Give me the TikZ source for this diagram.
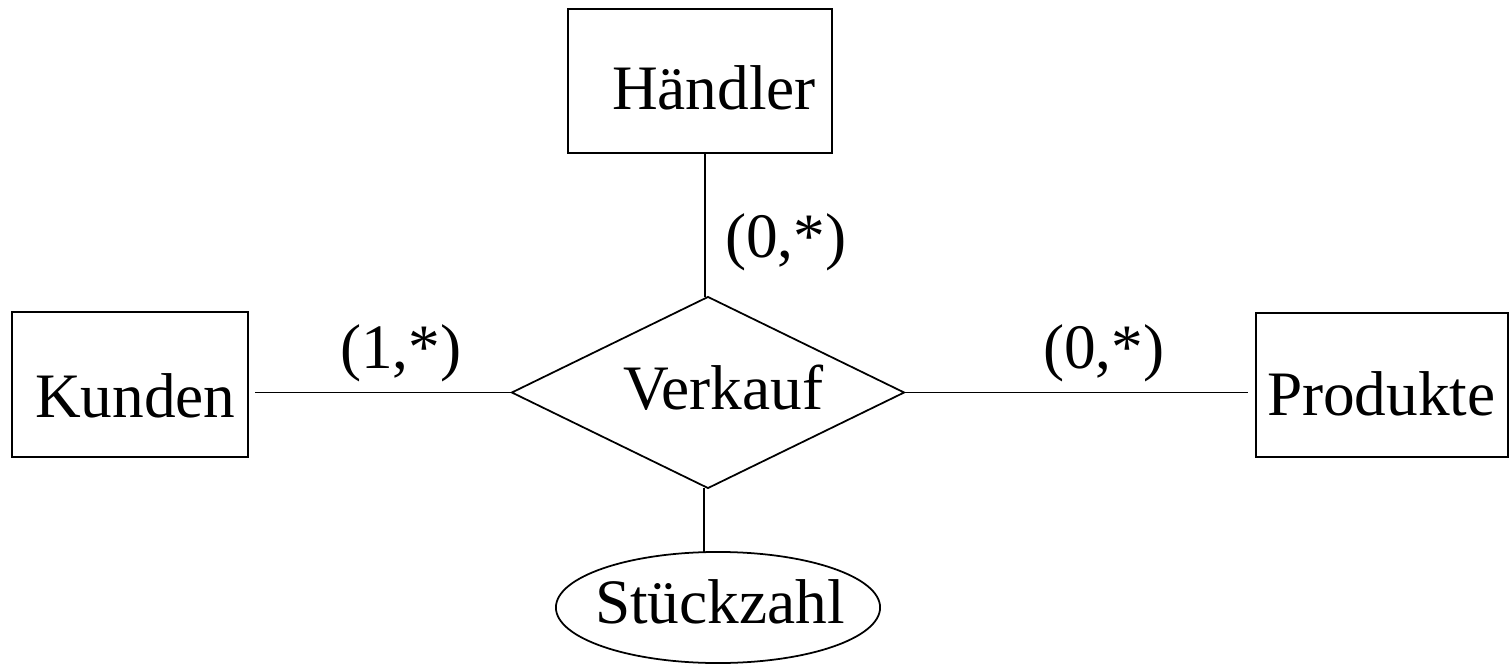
\documentclass[tikz,border=0pt]{standalone}
\usepackage{fontspec}
\setmainfont{Liberation Serif}
\usetikzlibrary{shapes.geometric}
\begin{document}
\begin{tikzpicture}[x=0.01cm,y=-0.01cm,
  every node/.style={inner sep=0pt, outer sep=0pt},
  ent/.style={draw, line width=0.5pt, rectangle},
  rel/.style={draw, line width=0.5pt, shape=diamond},
  attr/.style={draw, line width=0.5pt, shape=ellipse},
  lbl/.style={anchor=base west, font=\fontsize{18}{20}\selectfont},
  conn/.style={draw, line width=0.5pt}]
\useasboundingbox (0,0) rectangle (1509,664);
% shapes
\node[ent, minimum width=2.64cm, minimum height=1.44cm] (H) at (700,81) {};
\node[ent, minimum width=2.36cm, minimum height=1.45cm] (K) at (130,384.5) {};
\node[ent, minimum width=2.52cm, minimum height=1.44cm] (P) at (1382,385) {};
\node[rel, minimum width=3.92cm, minimum height=1.91cm] (V) at (708,392.5) {};
\node[attr, minimum width=3.24cm, minimum height=1.11cm] (S) at (718,607.5) {};
% texts
\node[lbl] (Ht) at (612,110) {Händler};
\node[lbl] (Kt) at (35,417) {Kunden};
\node[lbl] (Pt) at (1267,415) {Produkte};
\node[lbl] (Vt) at (623,409) {Verkauf};
\node[lbl] (St) at (595,623) {Stückzahl};
\node[lbl] (c1) at (725,258) {(0,*)};
\node[lbl] (c2) at (340,368) {(1,*)};
\node[lbl] (c3) at (1043,368) {(0,*)};
% connectors
\draw[conn] ([xshift=-0.03cm]V.north) -- ([xshift=-0.03cm]V.north |- H.south);
\draw[conn] (V.west) -- ([xshift=0.07cm]K.east |- V.west);
\draw[conn] (V.east) -- ([xshift=-0.08cm]P.west |- V.east);
\draw[conn] ([xshift=-0.04cm]V.south) -- ([xshift=-0.04cm]V.south |- S.north);
\end{tikzpicture}
\end{document}
